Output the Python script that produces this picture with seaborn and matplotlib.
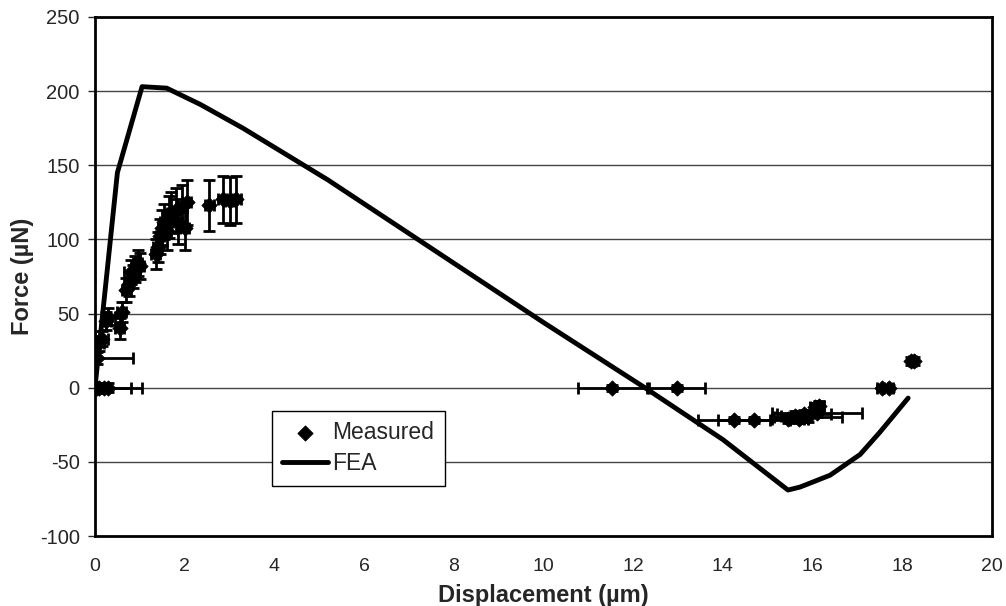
import matplotlib
matplotlib.use("Agg")
import matplotlib.pyplot as plt
import seaborn as sns
import pandas as pd
import numpy as np

# FEA curve
fea_x = [0.0, 0.5, 1.05, 1.6, 2.35, 3.3, 5.2, 8.0, 10.0, 12.26, 14.0, 15.45, 15.72, 16.39, 17.06, 17.5, 18.13]
fea_y = [0.0, 145, 203, 202, 191, 175, 140, 84, 44, 0, -35, -69, -67, -59, -45, -30, -7]

# Measured data
meas_x = [0.0, 0.05, 0.1, 0.2, 0.3, 0.05, 0.1, 0.15, 0.25, 0.3, 0.55, 0.6,
          0.7, 0.75, 0.8, 0.85, 0.9, 0.95, 1.0,
          1.35, 1.4, 1.45, 1.5, 1.55, 1.6, 1.65, 1.7, 1.8, 1.85, 1.95, 2.0, 2.05,
          2.55, 2.85, 3.0, 3.15,
          11.53, 12.98, 17.55, 17.7, 18.2, 18.25,
          14.25, 14.7, 15.45, 15.6, 15.7, 15.8, 15.9, 16.05, 16.15, 16.1]
meas_y = [0, 0, 0, 0, 0, 20, 30, 33, 45, 48, 40, 51,
          66, 70, 78, 75, 80, 84, 82,
          90, 95, 102, 108, 112, 106, 115, 118, 120, 112, 122, 108, 125,
          123, 127, 126, 127,
          0, 0, 0, 0, 18, 18,
          -22, -22, -21, -19, -21, -18, -20, -13, -12, -17]
meas_xerr = [0.05, 0.1, 0.05, 0.6, 0.75, 0.8, 0.1, 0.15, 0.1, 0.15, 0.1, 0.1,
             0.1, 0.1, 0.15, 0.1, 0.1, 0.1, 0.1,
             0.1, 0.1, 0.1, 0.1, 0.1, 0.1, 0.1, 0.1, 0.1, 0.1, 0.1, 0.1, 0.1,
             0.1, 0.1, 0.1, 0.1,
             0.77, 0.63, 0.12, 0.1, 0.05, 0.05,
             0.8, 0.8, 0.35, 0.3, 0.2, 0.6, 0.75, 0.1, 0.1, 1.0]
meas_yerr = [3, 3, 3, 3, 3, 4, 5, 5, 6, 6, 7, 7,
             8, 8, 8, 8, 9, 9, 9,
             10, 10, 12, 12, 12, 13, 14, 14, 15, 15, 15, 15, 15,
             17, 16, 16, 16,
             2, 2, 2, 2, 3, 3,
             2, 2, 3, 3, 3, 3, 3, 3, 3, 3]

x_ticks = list(range(0, 21, 2))
y_ticks = list(range(-100, 251, 50))

sns.set_style("white")
plt.rcParams['font.family'] = ['Liberation Sans', 'DejaVu Sans']
plt.rcParams['axes.unicode_minus'] = False

fig = plt.figure(figsize=(10.06, 6.06), dpi=100)
ax = fig.add_axes([0.0944, 0.1155, 0.8917, 0.8565])

df_fea = pd.DataFrame({"x": fea_x, "y": fea_y})
df_meas = pd.DataFrame({"x": meas_x, "y": meas_y, "xerr": meas_xerr, "yerr": meas_yerr})

ax.errorbar(df_meas["x"], df_meas["y"], xerr=df_meas["xerr"], yerr=df_meas["yerr"],
            fmt="none", ecolor="black", elinewidth=2, capsize=4, capthick=2, zorder=3)
sns.scatterplot(data=df_meas, x="x", y="y", marker="D", s=60, color="black",
                edgecolor="black", ax=ax, zorder=4, label="Measured")
sns.lineplot(data=df_fea, x="x", y="y", color="black", linewidth=3.5, ax=ax,
             zorder=5, label="FEA", sort=False)

ax.set_xlim(0, 20)
ax.set_ylim(-100, 250)
ax.set_xticks(x_ticks)
ax.set_yticks(y_ticks)
ax.tick_params(axis="x", length=0, labelsize=14, pad=16)
ax.tick_params(axis="y", length=5, width=1, direction="out", left=True, labelsize=14.5, pad=6)
for yv in y_ticks[1:-1]:
    ax.axhline(yv, color="#444444", linewidth=1, zorder=1)
for sp in ax.spines.values():
    sp.set_color("black")
    sp.set_linewidth(2)

ax.set_xlabel("Displacement (µm)", fontsize=17, fontweight="bold", labelpad=6)
ax.set_ylabel("Force (µN)", fontsize=17, fontweight="bold", labelpad=4)

leg = ax.legend(loc="upper left", bbox_to_anchor=(0.197, 0.241), fontsize=16.5,
                frameon=True, fancybox=False, framealpha=1, edgecolor="black",
                borderpad=0.45, labelspacing=0.35, handlelength=2.0, handletextpad=0.2,
                borderaxespad=0)
leg.get_frame().set_linewidth(1)

fig.savefig("out.png", dpi=100)
